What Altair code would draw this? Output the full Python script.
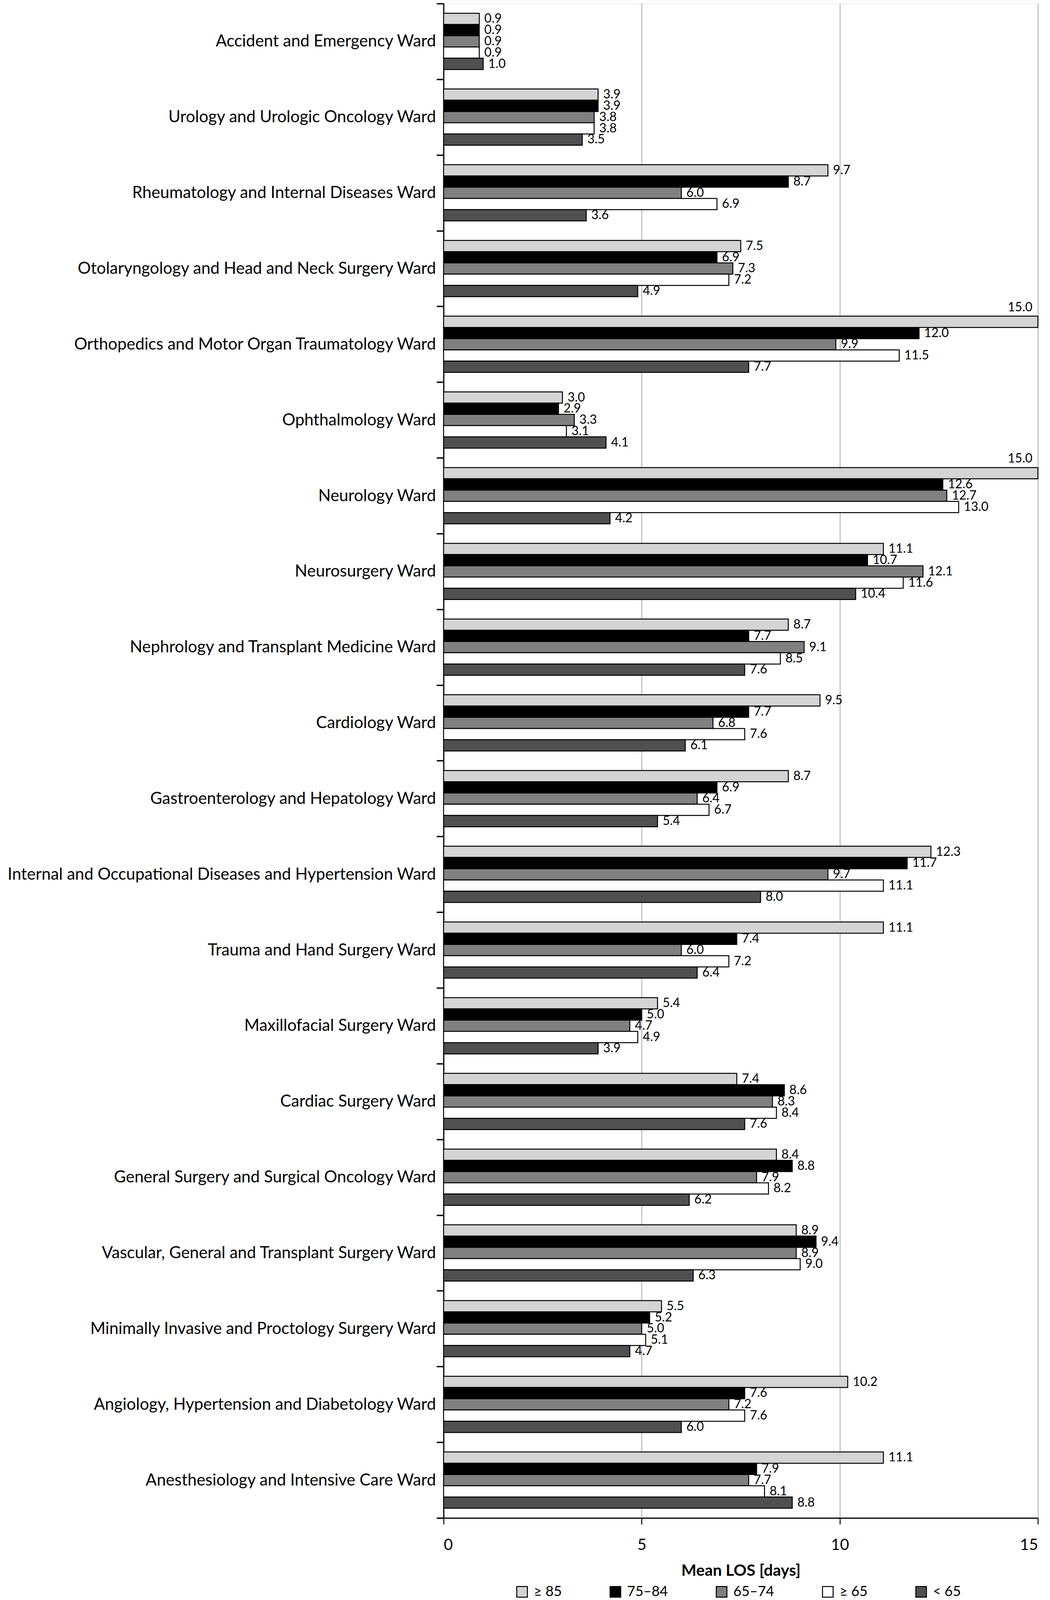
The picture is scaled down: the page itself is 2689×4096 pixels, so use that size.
import altair as alt
import pandas as pd

wards = [
    "Accident and Emergency Ward",
    "Urology and Urologic Oncology Ward",
    "Rheumatology and Internal Diseases Ward",
    "Otolaryngology and Head and Neck Surgery Ward",
    "Orthopedics and Motor Organ Traumatology Ward",
    "Ophthalmology Ward",
    "Neurology Ward",
    "Neurosurgery Ward",
    "Nephrology and Transplant Medicine Ward",
    "Cardiology Ward",
    "Gastroenterology and Hepatology Ward",
    "Internal and Occupational Diseases and Hypertension Ward",
    "Trauma and Hand Surgery Ward",
    "Maxillofacial Surgery Ward",
    "Cardiac Surgery Ward",
    "General Surgery and Surgical Oncology Ward",
    "Vascular, General and Transplant Surgery Ward",
    "Minimally Invasive and Proctology Surgery Ward",
    "Angiology, Hypertension and Diabetology Ward",
    "Anesthesiology and Intensive Care Ward",
]

series = ["≥ 85", "75–84", "65–74", "≥ 65", "< 65"]

v_85plus = [0.9, 3.9, 9.7, 7.5, 15.0, 3.0, 15.0, 11.1, 8.7, 9.5, 8.7, 12.3, 11.1, 5.4, 7.4, 8.4, 8.9, 5.5, 10.2, 11.1]
v_75_84 = [0.9, 3.9, 8.7, 6.9, 12.0, 2.9, 12.6, 10.7, 7.7, 7.7, 6.9, 11.7, 7.4, 5.0, 8.6, 8.8, 9.4, 5.2, 7.6, 7.9]
v_65_74 = [0.9, 3.8, 6.0, 7.3, 9.9, 3.3, 12.7, 12.1, 9.1, 6.8, 6.4, 9.7, 6.0, 4.7, 8.3, 7.9, 8.9, 5.0, 7.2, 7.7]
v_65plus = [0.9, 3.8, 6.9, 7.2, 11.5, 3.1, 13.0, 11.6, 8.5, 7.6, 6.7, 11.1, 7.2, 4.9, 8.4, 8.2, 9.0, 5.1, 7.6, 8.1]
v_lt65 = [1.0, 3.5, 3.6, 4.9, 7.7, 4.1, 4.2, 10.4, 7.6, 6.1, 5.4, 8.0, 6.4, 3.9, 7.6, 6.2, 6.3, 4.7, 6.0, 8.8]

colors = ["#d4d4d4", "#000000", "#808080", "#ffffff", "#505050"]

rows = []
for i, w in enumerate(wards):
    for s, vals in zip(series, [v_85plus, v_75_84, v_65_74, v_65plus, v_lt65]):
        rows.append({"ward": w, "group": s, "value": vals[i]})
df = pd.DataFrame(rows)

FONT = "Lato"

y_enc = alt.Y(
    "ward:N",
    sort=wards,
    scale=alt.Scale(paddingInner=0, paddingOuter=0),
    axis=alt.Axis(
        title=None,
        tickBand="extent",
        tickSize=18,
        tickWidth=3.5,
        tickColor="black",
        domainColor="black",
        domainWidth=3,
        labelFont=FONT,
        labelFontSize=42,
        labelColor="black",
        labelPadding=2,
        labelLimit=0,
        grid=False,
    ),
)
yoff = alt.YOffset("group:N", sort=series, scale=alt.Scale(paddingOuter=0.866, paddingInner=0))
x_enc = alt.X(
    "value:Q",
    scale=alt.Scale(domain=[0, 15], nice=False),
    axis=alt.Axis(
        title="Mean LOS [days]",
        values=[0, 5, 10, 15],
        format="d",
        tickSize=16,
        tickWidth=2.5,
        tickColor="black",
        domainColor="black",
        domainWidth=3,
        labelFont=FONT,
        labelFontSize=40,
        labelColor="black",
        labelPadding=33,
        grid=True,
        gridColor="#a8a8a8",
        gridWidth=2,
        titleFont=FONT,
        titleFontSize=41,
        titleFontWeight="bold",
        titleColor="black",
        titlePadding=26,
    ),
)
color_enc = alt.Color(
    "group:N",
    sort=series,
    scale=alt.Scale(domain=series, range=colors),
    legend=alt.Legend(
        title=None,
        orient="none",
        direction="horizontal",
        legendX=183,
        legendY=4048,
        symbolType="square",
        symbolSize=740,
        symbolStrokeColor="black",
        symbolStrokeWidth=2.5,
        symbolOpacity=1,
        labelFont=FONT,
        labelFontSize=36,
        labelColor="black",
        labelOffset=12,
        columnPadding=118,
    ),
)

base = alt.Chart(df)

bars = base.mark_bar(stroke="black", strokeWidth=2.5).encode(
    x=x_enc, y=y_enc, yOffset=yoff, color=color_enc
)

labels = base.mark_text(
    align="left", baseline="middle", dx=13, font=FONT, fontSize=32, color="black"
).encode(
    x="value:Q", y=alt.Y("ward:N", sort=wards), yOffset=alt.YOffset("group:N", sort=series),
    text=alt.Text("value:Q", format=".1f"),
).transform_filter(alt.datum.value < 15)

labels_top = base.mark_text(
    align="right", baseline="middle", dx=-14, dy=-37, font=FONT, fontSize=32, color="black"
).encode(
    x="value:Q", y=alt.Y("ward:N", sort=wards), yOffset=alt.YOffset("group:N", sort=series),
    text=alt.Text("value:Q", format=".1f"),
).transform_filter(alt.datum.value >= 15)

chart = alt.layer(bars, labels, labels_top).properties(
    width=1522,
    height=3877,
    autosize=alt.AutoSizeParams(type="none"),
    padding={"left": 1128, "top": 1, "right": 23, "bottom": 210},
).configure_view(stroke="black", strokeWidth=3).configure(background="white")

chart.save("out.html", embed_options={"renderer": "svg", "actions": False})
